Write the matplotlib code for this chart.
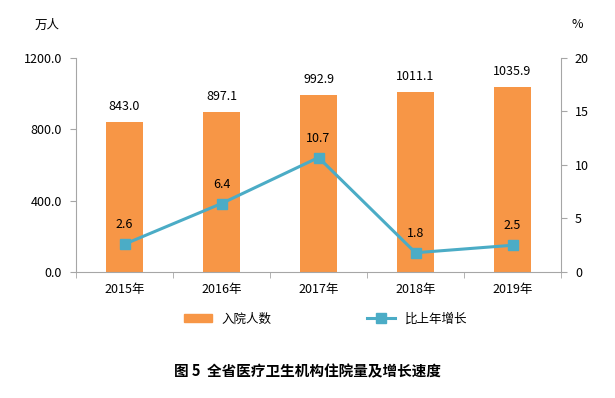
import matplotlib
matplotlib.use("Agg")
import matplotlib.pyplot as plt
from matplotlib.lines import Line2D
from matplotlib.patches import Patch

plt.rcParams['font.family'] = ['Noto Sans CJK SC', 'DejaVu Sans']

years = ["2015年", "2016年", "2017年", "2018年", "2019年"]
inpatients = [843.0, 897.1, 992.9, 1011.1, 1035.9]
growth = [2.6, 6.4, 10.7, 1.8, 2.5]

bar_color = "#F79646"
line_color = "#4BACC6"
axis_gray = "#A6A6A6"

fig = plt.figure(figsize=(6.15, 3.98), dpi=100)
ax = fig.add_axes([0.1236, 0.3166, 0.7886, 0.5377])
ax2 = ax.twinx()

x = list(range(len(years)))
ax.bar(x, inpatients, width=0.39, color=bar_color, zorder=2)
ax.set_xlim(-0.5, len(years) - 0.5)
ax.set_ylim(0, 1200)
ax.set_yticks([0, 400, 800, 1200])
ax.set_yticklabels([f"{v:.1f}" for v in [0, 400, 800, 1200]], fontsize=9)
ax.set_xticks(x)
ax.set_xticklabels(years, fontsize=9)
ax.tick_params(axis='x', length=0, pad=8)
ax.set_xticks([i - 0.5 for i in range(len(years) + 1)], minor=True)
ax.tick_params(axis='x', which='minor', length=4, color=axis_gray)
ax.tick_params(axis='y', length=4, color=axis_gray, pad=6)

for i, v in enumerate(inpatients):
    ax.text(i, v + 50, f"{v:.1f}", ha='center', va='bottom', fontsize=9)

ax2.plot(x, growth, color=line_color, linewidth=2.2, marker='s', markersize=7, zorder=3)
ax2.set_ylim(0, 20)
ax2.set_yticks([0, 5, 10, 15, 20])
ax2.set_yticklabels(["0", "5", "10", "15", "20"], fontsize=9)
ax2.tick_params(axis='y', length=4, color=axis_gray, pad=6)
for i, v in enumerate(growth):
    ax2.text(i, v + 1.2, f"{v:.1f}", ha='center', va='bottom', fontsize=9)

for a in (ax, ax2):
    a.spines['top'].set_visible(False)
    for s in ('left', 'right', 'bottom'):
        a.spines[s].set_color(axis_gray)
ax.spines['right'].set_visible(False)
ax2.spines['left'].set_visible(False)
ax2.spines['bottom'].set_visible(False)

fig.text(47 / 615, 1 - 25 / 398, "万人", ha='center', va='center', fontsize=9)
fig.text(577 / 615, 1 - 24 / 398, "%", ha='center', va='center', fontsize=9)

handles = [Patch(color=bar_color),
           Line2D([0], [0], color=line_color, linewidth=2.2, marker='s', markersize=7)]
fig.legend(handles[:1], ["入院人数"], loc='center', bbox_to_anchor=(228 / 615, 1 - 319 / 398),
           frameon=False, fontsize=9, handlelength=2.2, handleheight=0.6)
fig.legend(handles[1:], ["比上年增长"], loc='center', bbox_to_anchor=(417 / 615, 1 - 319 / 398),
           frameon=False, fontsize=9, handlelength=2.2)

fig.text(0.5, 1 - 371 / 398, "图 5  全省医疗卫生机构住院量及增长速度", ha='center', va='center',
         fontsize=10.5, fontweight='bold')

fig.savefig("out.png", dpi=100)
